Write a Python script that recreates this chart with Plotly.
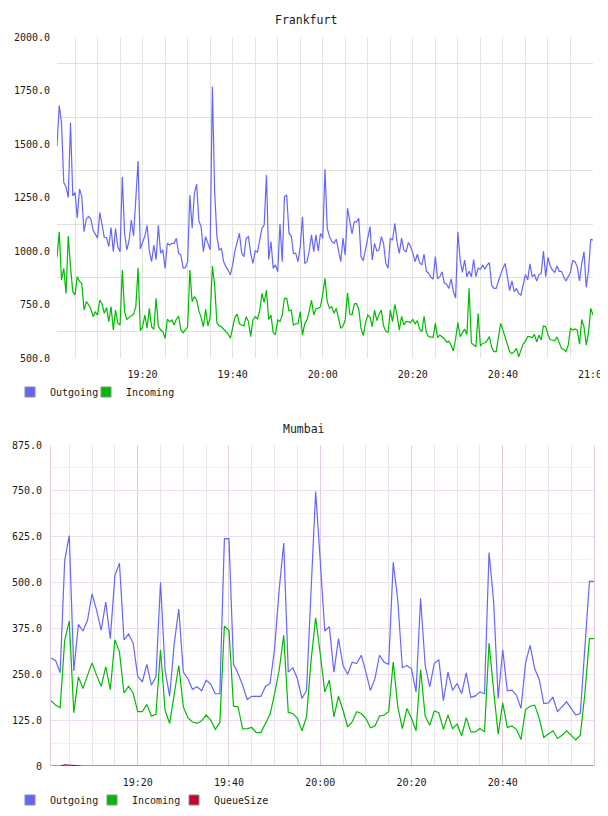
import plotly.graph_objects as go
import pandas as pd

DAY = "2013-06-12"

# Frankfurt, one sample every 30 s from 19:01 to 21:00
fra_out = [
    1490, 1680, 1600, 1320, 1300, 1250, 1600, 1258, 1273, 1155,
    1290, 1257, 1090, 1150, 1162, 1150, 1098, 1080, 1060, 1180,
    1126, 1064, 1062, 1020, 1110, 997, 1105, 1020, 997, 1347,
    1083, 1005, 1048, 1145, 1070, 1250, 1420, 1010, 1040, 1070,
    1120, 1000, 950, 1028, 960, 1120, 990, 1005, 919, 1036,
    1028, 1036, 1036, 1059, 990, 981, 920, 922, 950, 1262,
    1106, 1270, 1313, 1140, 1114, 997, 1067, 1040, 1005, 1768,
    1280, 1067, 1005, 1012, 950, 927, 911, 888, 935, 1000,
    1036, 1083, 990, 974, 1059, 1067, 989, 942, 1000, 995,
    1051, 1106, 1122, 1355, 960, 1044, 919, 935, 903, 1126,
    950, 1254, 1262, 1083, 1070, 989, 989, 950, 1020, 1160,
    942, 950, 1000, 1075, 997, 1075, 1000, 1083, 1059, 1382,
    1106, 1067, 1045, 1036, 1055, 1010, 950, 1060, 981, 1200,
    1145, 1080, 1137, 1135, 1153, 974, 955, 1005, 1050, 1114,
    958, 1036, 1000, 1005, 1067, 1036, 942, 920, 1060, 1051,
    1129, 1040, 989, 1060, 1005, 995, 1040, 1020, 990, 950,
    985, 945, 935, 985, 905, 896, 878, 868, 974, 870,
    880, 903, 850, 845, 825, 870, 812, 780, 1090, 960,
    900, 958, 880, 905, 880, 960, 880, 920, 915, 935,
    915, 935, 945, 840, 825, 825, 860, 896, 920, 942,
    880, 815, 860, 810, 825, 802, 794, 845, 890, 865,
    940, 880, 890, 860, 890, 896, 1000, 880, 970, 930,
    911, 900, 930, 905, 905, 880, 860, 880, 900, 955,
    950, 927, 860, 940, 997, 830, 910, 1055, 1051,
]
fra_in = [
    970, 1090, 865, 919, 802, 1070, 927, 810, 795, 880,
    857, 849, 724, 763, 750, 730, 693, 715, 700, 771,
    752, 709, 735, 670, 740, 631, 724, 662, 654, 911,
    717, 680, 690, 696, 705, 740, 922, 628, 646, 701,
    639, 732, 646, 634, 779, 649, 631, 623, 592, 681,
    670, 678, 654, 681, 696, 631, 618, 631, 646, 911,
    763, 787, 771, 720, 690, 646, 728, 650, 690, 930,
    840, 665, 650, 646, 635, 620, 612, 592, 642, 690,
    705, 660, 654, 650, 693, 670, 600, 678, 693, 683,
    720, 802, 760, 817, 680, 701, 618, 610, 678, 670,
    700, 779, 779, 720, 724, 654, 660, 660, 717, 607,
    660, 678, 720, 771, 701, 730, 732, 740, 800, 872,
    763, 732, 740, 709, 732, 690, 639, 650, 678, 805,
    706, 701, 752, 755, 728, 639, 605, 665, 700, 690,
    646, 724, 675, 705, 724, 650, 625, 620, 724, 670,
    750, 701, 630, 695, 654, 670, 670, 665, 680, 660,
    675, 635, 623, 695, 620, 600, 600, 597, 662, 595,
    607, 600, 590, 575, 578, 560, 533, 590, 665, 600,
    615, 635, 610, 826, 570, 560, 553, 709, 555, 569,
    570, 582, 600, 550, 530, 530, 595, 662, 630, 595,
    561, 530, 520, 530, 545, 505, 537, 565, 578, 600,
    600, 595, 610, 575, 607, 585, 650, 646, 610, 585,
    584, 580, 598, 567, 545, 540, 530, 560, 639, 631,
    636, 631, 565, 680, 646, 560, 620, 732, 701,
]

# Mumbai, one sample per minute from 19:01 to 21:00
mum_out = [
    294, 288, 254, 560, 628, 259, 386, 368, 397, 469,
    424, 370, 447, 347, 519, 553, 344, 360, 335, 245,
    229, 277, 220, 243, 501, 261, 190, 333, 428, 256,
    238, 209, 216, 205, 234, 223, 197, 197, 619, 620,
    277, 252, 220, 181, 190, 190, 190, 217, 225, 320,
    480, 608, 256, 268, 238, 184, 206, 480, 748, 560,
    368, 380, 256, 347, 274, 250, 283, 279, 302, 256,
    206, 238, 302, 283, 277, 555, 451, 268, 274, 265,
    202, 457, 274, 216, 279, 290, 178, 256, 206, 225,
    197, 254, 187, 191, 202, 197, 582, 450, 184, 317,
    205, 207, 193, 157, 281, 329, 265, 236, 170, 172,
    188, 148, 163, 175, 157, 139, 143, 330, 503, 503,
]
mum_in = [
    178, 166, 159, 342, 395, 145, 243, 211, 247, 281,
    247, 217, 270, 208, 344, 311, 199, 217, 199, 148,
    148, 168, 136, 141, 317, 152, 116, 199, 274, 161,
    132, 120, 116, 123, 139, 125, 100, 118, 381, 370,
    163, 161, 101, 102, 105, 91, 91, 116, 141, 197,
    261, 356, 146, 143, 130, 96, 134, 288, 404, 306,
    202, 234, 134, 190, 152, 107, 120, 148, 143, 130,
    104, 109, 136, 139, 148, 283, 161, 102, 157, 130,
    96, 263, 136, 111, 150, 145, 100, 139, 102, 114,
    82, 132, 93, 93, 102, 93, 335, 206, 87, 172,
    105, 109, 100, 72, 154, 163, 166, 130, 78, 87,
    96, 75, 84, 96, 84, 71, 84, 197, 347, 347,
]
mum_queue = [
    0, 0, 0, 3, 2, 0, 0, 0, 0, 0,
    0, 0, 0, 0, 0, 0, 0, 0, 0, 0,
    0, 0, 0, 1, 2, 0, 0, 0, 0, 0,
    0, 0, 0, 0, 0, 0, 0, 0, 0, 0,
    0, 0, 0, 0, 0, 0, 0, 0, 0, 0,
    0, 0, 0, 0, 0, 0, 0, 0, 0, 0,
    0, 0, 0, 0, 0, 0, 0, 0, 0, 0,
    0, 0, 0, 0, 0, 0, 0, 0, 0, 0,
    0, 0, 0, 0, 0, 0, 0, 0, 0, 0,
    0, 0, 0, 0, 0, 0, 0, 0, 0, 0,
    0, 0, 0, 0, 0, 0, 0, 0, 0, 0,
    0, 0, 0, 0, 0, 0, 0, 0, 0, 0,
]

mum_yticks = [0, 125, 250, 375, 500, 625, 750, 875]
mum_ylabels = ["0", "125.0", "250.0", "375.0", "500.0", "625.0", "750.0", "875.0"]

fra_times = pd.date_range(DAY + " 19:01:00", periods=len(fra_out), freq="30s")
mum_times = pd.date_range(DAY + " 19:01:00", periods=len(mum_out), freq="60s")

OUT = "#6666ff"
INC = "#00bb00"
QUE = "#cc0033"
FONT = "DejaVu Sans Mono"

# the page body keeps its default 8px margin, so the figure is 8px smaller
# and page pixel positions are shifted by that much
PAD = 8
W, H = 608 - PAD, 816 - PAD


def fx(px):
    return (px - PAD) / W


def fy(py):
    return 1 - (py - PAD) / H


fig = go.Figure()


def line(x, y, color, xa, ya):
    fig.add_trace(go.Scatter(x=x, y=y, mode="lines", line=dict(color=color, width=1.2),
                             xaxis=xa, yaxis=ya, showlegend=False, hoverinfo="skip"))


def swatch(name, color, leg, xa, ya, border="#8a8a8a"):
    # legend-only square swatch
    fig.add_trace(go.Scatter(x=[None], y=[None], mode="markers", name=name, legend=leg,
                             marker=dict(symbol="square", size=10, color=color,
                                         line=dict(color=border, width=1)),
                             xaxis=xa, yaxis=ya, hoverinfo="skip"))


line(fra_times, fra_out, OUT, "x", "y")
line(fra_times, fra_in, INC, "x", "y")
swatch("Outgoing", OUT, "legend", "x", "y")
swatch("Incoming", INC, "legend", "x", "y")
swatch(" ", "rgba(0,0,0,0)", "legend", "x", "y", border="rgba(0,0,0,0)")

line(mum_times, mum_queue, QUE, "x2", "y2")
line(mum_times, mum_out, OUT, "x2", "y2")
line(mum_times, mum_in, INC, "x2", "y2")
swatch("Outgoing", OUT, "legend2", "x2", "y2")
swatch("Incoming", INC, "legend2", "x2", "y2")
swatch("QueueSize", QUE, "legend2", "x2", "y2")
swatch(" ", "rgba(0,0,0,0)", "legend2", "x2", "y2", border="rgba(0,0,0,0)")

tickfont = dict(family=FONT, size=10, color="#1a1a1a")
xcommon = dict(type="date", tickformat="%H:%M", dtick=20 * 60 * 1000,
               tick0=DAY + " 19:00:00", ticks="", zeroline=False, showline=False,
               tickfont=tickfont, ticklabelstandoff=9, automargin=False)
legcommon = dict(orientation="h", xref="container", yref="container",
                 x=fx(10), xanchor="left", yanchor="middle",
                 font=dict(family=FONT, size=10, color="#1a1a1a"), itemwidth=30,
                 entrywidthmode="pixels", bgcolor="rgba(0,0,0,0)", tracegroupgap=0)

fig.update_layout(
    width=W, height=H,
    margin=dict(l=0, r=0, t=0, b=0, autoexpand=False),
    paper_bgcolor="white", plot_bgcolor="white",
    font=dict(family=FONT, size=10, color="#1a1a1a"),
    xaxis=dict(xcommon, domain=[fx(57), fx(593)], anchor="y",
               range=[fra_times[0], fra_times[-1]], ticklabeloverflow="allow",
               showgrid=True, gridcolor="#e4e4e4", gridwidth=1,
               minor=dict(dtick=5 * 60 * 1000, showgrid=True, gridcolor="#e4e4e4")),
    yaxis=dict(domain=[fy(358), fy(37)], anchor="x", range=[500, 2000],
               tick0=500, dtick=250, tickformat=".1f", ticks="", showgrid=False,
               zeroline=False, tickfont=tickfont, ticklabelstandoff=6, automargin=False,
               minor=dict(tick0=500, dtick=125, showgrid=True, gridcolor="#e0e0e0")),
    xaxis2=dict(xcommon, domain=[fx(51), fx(594)], anchor="y2",
                range=[mum_times[0], mum_times[-1]], ticklabeloverflow="hide past domain",
                showgrid=True, gridcolor="#e2cce2", gridwidth=1,
                minor=dict(dtick=5 * 60 * 1000, showgrid=True, gridcolor="#e8e6ea")),
    yaxis2=dict(domain=[fy(766), fy(445)], anchor="x2", range=[0, 875],
                tickmode="array", tickvals=mum_yticks, ticktext=mum_ylabels,
                ticks="", showgrid=True, gridcolor="#f0dcf0", zeroline=False,
                showline=True, mirror=True, linecolor="#e2cce2", linewidth=1,
                tickfont=tickfont, ticklabelstandoff=6, automargin=False,
                minor=dict(tick0=0, dtick=62.5, showgrid=True, gridcolor="#f1f1f1")),
    legend=dict(legcommon, y=fy(392), entrywidth=31),
    legend2=dict(legcommon, y=fy(800), entrywidth=37),
    annotations=[
        dict(text="Frankfurt", x=fx(306), y=fy(20), xref="paper", yref="paper",
             xanchor="center", yanchor="middle", showarrow=False,
             font=dict(family=FONT, size=11.5, color="#1a1a1a")),
        dict(text="Mumbai", x=fx(304), y=fy(429), xref="paper", yref="paper",
             xanchor="center", yanchor="middle", showarrow=False,
             font=dict(family=FONT, size=11.5, color="#1a1a1a")),
    ],
)

fig.write_html("out.html")
